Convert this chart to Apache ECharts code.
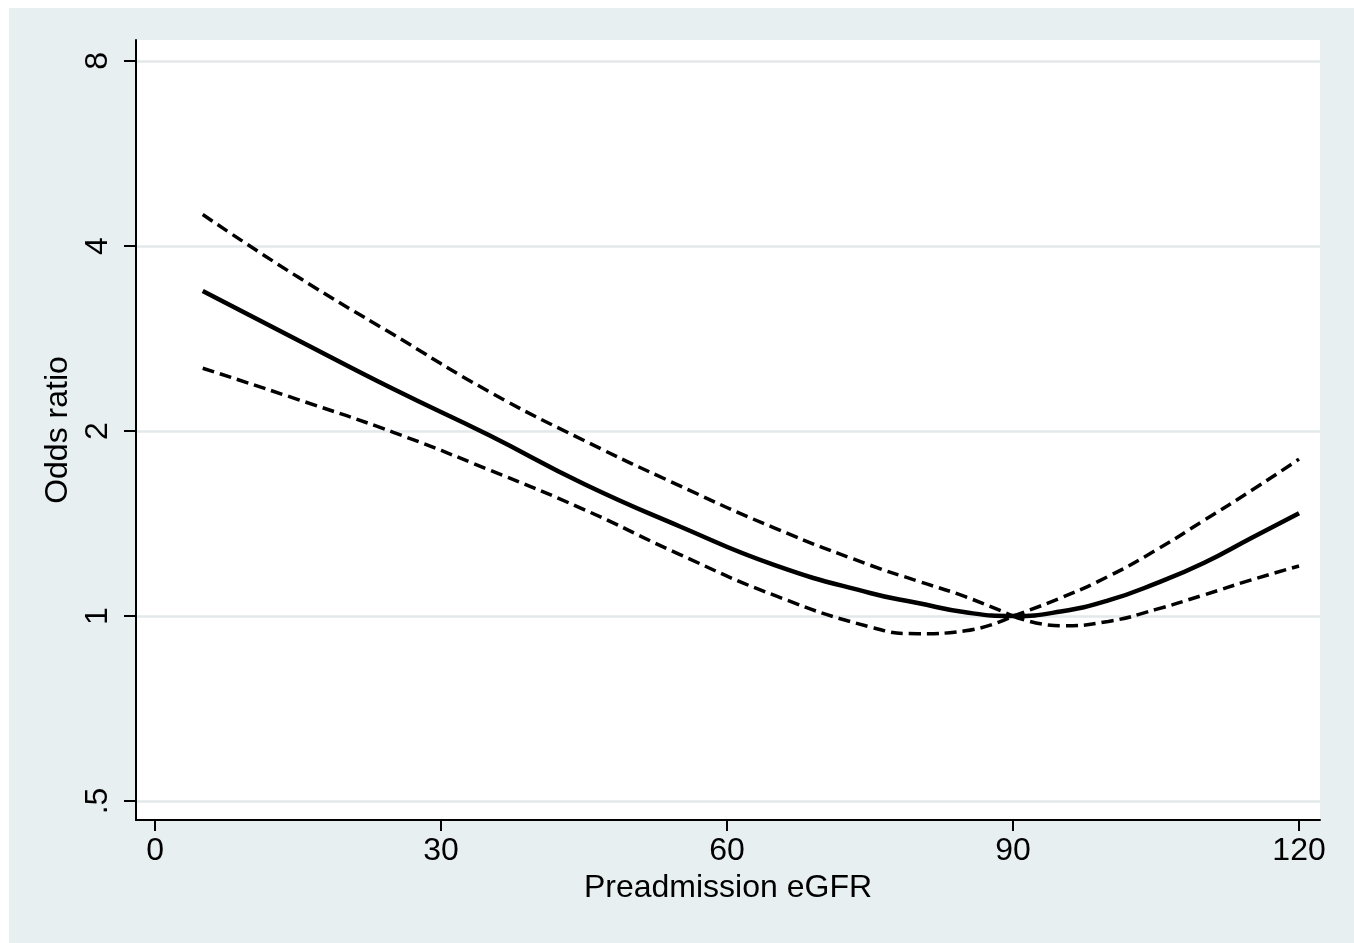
<!DOCTYPE html>
<html>

<head>
    <meta charset="utf-8">
    <script type="text/javascript" src="https://cdn.jsdelivr.net/npm/echarts@6/dist/echarts.min.js"></script>
    <title>Odds ratio by preadmission eGFR</title>
    <style>
        html, body { margin: 0; padding: 0; background: #fff; }
        #container { position: absolute; left: 9px; top: 8px; width: 1345px; height: 935px; }
    </style>
</head>

<body>
    <div id="container"></div>
    <script type="text/javascript">
    // eGFR values along the x axis
    var eGFR = [5, 15, 25, 35, 45, 55, 65, 75, 80, 85, 90, 95, 100, 105, 110, 115, 120];
    // fitted odds ratio (solid) and 95% CI bounds (dashed); reference eGFR = 90
    var oddsRatio = [3.38, 2.81, 2.34, 1.97, 1.64, 1.40, 1.21, 1.09, 1.05, 1.014, 1.00, 1.017, 1.06, 1.13, 1.22, 1.34, 1.47];
    var upperCI = [4.50, 3.56, 2.87, 2.32, 1.93, 1.63, 1.39, 1.21, 1.14, 1.075, 1.00, 1.07, 1.16, 1.28, 1.43, 1.60, 1.80];
    var lowerCI = [2.53, 2.25, 1.99, 1.73, 1.49, 1.26, 1.08, 0.96, 0.936, 0.946, 1.00, 0.964, 0.98, 1.025, 1.082, 1.145, 1.206];
    var refEGFR = 90;

    // tick values and labels
    var xTicks = [0, 30, 60, 90, 120];
    var yTicks = [0.5, 1, 2, 4, 8];
    var yTickLabels = ['.5', '1', '2', '4', '8'];

    function pairs(ys, keep) {
        var out = [];
        eGFR.forEach(function (x, i) {
            if (!keep || keep(x)) out.push([x, ys[i]]);
        });
        return out;
    }
    // the CI bands meet at the reference point, so each side is drawn on its own
    function leftOfRef(x) { return x <= refEGFR; }
    function rightOfRef(x) { return x >= refEGFR; }

    var font = "'Liberation Sans', Arial, sans-serif";
    var dashed = { color: '#000', width: 3.5, type: [12, 6] };
    var myChart = echarts.init(document.getElementById('container'));

    var option = {
        animation: false,
        backgroundColor: '#e8eff1',
        grid: {
            left: 127, top: 32, width: 1184, height: 780,
            show: true, backgroundColor: '#ffffff', borderWidth: 0
        },
        xAxis: {
            type: 'value',
            min: -2,
            max: 122.2,
            name: 'Preadmission eGFR',
            nameLocation: 'middle',
            nameGap: 44,
            nameTextStyle: { color: '#000', fontSize: 32, fontFamily: font },
            axisLine: { onZero: false, lineStyle: { color: '#000', width: 2 } },
            axisTick: { customValues: xTicks, length: 11, lineStyle: { color: '#000', width: 2 } },
            axisLabel: { customValues: xTicks, margin: 15, color: '#000', fontSize: 32, fontFamily: font },
            splitLine: { show: false }
        },
        yAxis: {
            type: 'log',
            logBase: 2,
            min: 0.4657,
            max: 8.654,
            name: 'Odds ratio',
            nameLocation: 'middle',
            nameGap: 53,
            nameTextStyle: { color: '#000', fontSize: 32, fontFamily: font },
            axisLine: { show: true, onZero: false, lineStyle: { color: '#000', width: 2 } },
            axisTick: { show: true, customValues: yTicks, length: 12, lineStyle: { color: '#000', width: 2 } },
            axisLabel: {
                customValues: yTicks,
                rotate: 90,
                margin: 22,
                color: '#000',
                fontSize: 32,
                fontFamily: font,
                formatter: function (v) {
                    var i = yTicks.indexOf(v);
                    return i >= 0 ? yTickLabels[i] : '';
                }
            },
            splitLine: { show: true, lineStyle: { color: '#e3e8ea', width: 2.5 } }
        },
        series: [
            { type: 'line', data: pairs(upperCI, leftOfRef), smooth: true, showSymbol: false, lineStyle: dashed },
            { type: 'line', data: pairs(upperCI, rightOfRef), smooth: true, showSymbol: false, lineStyle: dashed },
            { type: 'line', data: pairs(lowerCI, leftOfRef), smooth: true, showSymbol: false, lineStyle: dashed },
            { type: 'line', data: pairs(lowerCI, rightOfRef), smooth: true, showSymbol: false, lineStyle: dashed },
            {
                type: 'line', data: pairs(oddsRatio), smooth: true, showSymbol: false,
                lineStyle: { color: '#000', width: 4.5 }
            }
        ]
    };

    myChart.setOption(option);
    </script>
</body>

</html>
